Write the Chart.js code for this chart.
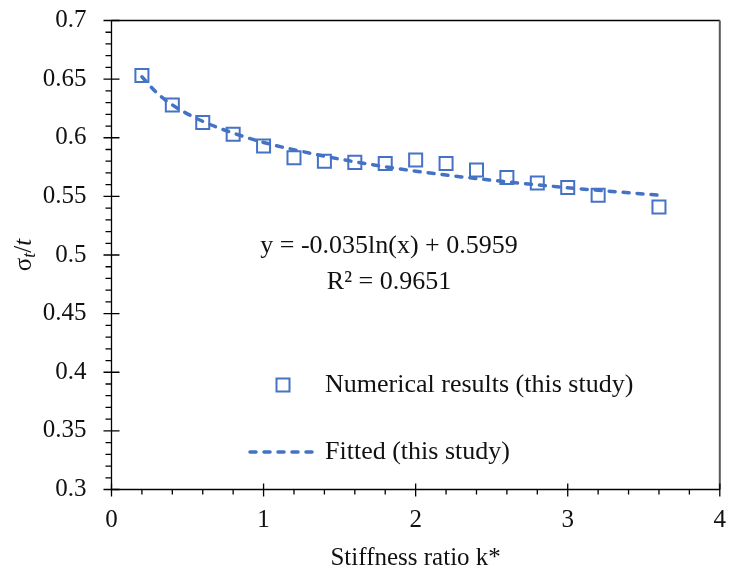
<!DOCTYPE html>
<html>
<head>
<meta charset="utf-8">
<script src="https://cdn.jsdelivr.net/npm/chart.js@4.4.1/dist/chart.umd.min.js"></script>
<style>
  html, body { margin: 0; padding: 0; background: #fff; }
  #wrap { width: 731px; height: 574px; }
</style>
</head>
<body>
<div id="wrap"><canvas id="chart"></canvas></div>
<script>
// numerical results (this study)
const kValues = [0.2, 0.4, 0.6, 0.8, 1.0, 1.2, 1.4, 1.6, 1.8, 2.0, 2.2, 2.4, 2.6, 2.8, 3.0, 3.2, 3.6];
const stressValues = [0.653, 0.628, 0.613, 0.603, 0.593, 0.583, 0.580, 0.579, 0.578, 0.581, 0.578, 0.5725, 0.566, 0.5615, 0.5575, 0.551, 0.541];

// fitted curve
const fitK = [0.2, 0.3, 0.4, 0.6, 0.8, 1.0, 1.3, 1.6, 2.0, 2.5, 3.0, 3.6];
const fitStress = [0.652, 0.638, 0.628, 0.614, 0.604, 0.596, 0.587, 0.5795, 0.5715, 0.5638, 0.5574, 0.551];

const xTicks = [0, 1, 2, 3, 4];
const yTicks = [0.3, 0.35, 0.4, 0.45, 0.5, 0.55, 0.6, 0.65, 0.7];

const equationText = 'y = -0.035ln(x) + 0.5959';
const r2Text = 'R² = 0.9651';
const legendPoints = 'Numerical results (this study)';
const legendFit = 'Fitted (this study)';
const xTitle = 'Stiffness ratio k*';

const blue = '#4472C4';
const serif = '"Liberation Serif", "Times New Roman", serif';

const toPoints = (xs, ys) => xs.map((x, i) => ({ x: x, y: ys[i] }));

// no extra room for overhanging tick labels, the layout padding does it
function noPad(scale) {
    scale.paddingLeft = 0;
    scale.paddingRight = 0;
    scale.paddingTop = 0;
    scale.paddingBottom = 0;
}

const decorPlugin = {
    id: 'decor',
    afterDraw(chart) {
        const ctx = chart.ctx;
        const area = chart.chartArea;
        const xs = chart.scales.x;
        const ys = chart.scales.y;
        ctx.save();

        // frame
        ctx.lineCap = 'butt';
        ctx.strokeStyle = '#000';
        ctx.lineWidth = 1.3;
        ctx.beginPath();
        ctx.moveTo(area.left, area.top);
        ctx.lineTo(area.right, area.top);
        ctx.moveTo(area.left, area.top);
        ctx.lineTo(area.left, area.bottom);
        ctx.lineTo(area.right, area.bottom);
        ctx.stroke();
        ctx.strokeStyle = '#595959';
        ctx.lineWidth = 2;
        ctx.beginPath();
        ctx.moveTo(area.right, area.top);
        ctx.lineTo(area.right, area.bottom);
        ctx.stroke();

        // tick marks
        ctx.strokeStyle = '#000';
        ctx.lineWidth = 1.3;
        ctx.beginPath();
        for (let i = 0; i <= 20; i++) {
            const px = xs.getPixelForValue(i * 0.2);
            const major = i % 5 === 0;
            ctx.moveTo(px, area.bottom - (major ? 6 : 0));
            ctx.lineTo(px, area.bottom + (major ? 7 : 5));
        }
        for (let i = 30; i <= 70; i++) {
            const py = ys.getPixelForValue(i / 100);
            const major = i % 5 === 0;
            ctx.moveTo(area.left + (major ? 8 : 0), py);
            ctx.lineTo(area.left - (major ? 8 : 6), py);
        }
        ctx.stroke();

        ctx.fillStyle = '#111';
        ctx.textBaseline = 'middle';

        // x axis title
        ctx.font = '25px ' + serif;
        ctx.textAlign = 'center';
        ctx.fillText(xTitle, (area.left + area.right) / 2, 558);

        // y axis title: sigma_t / t
        ctx.save();
        ctx.translate(24, (area.top + area.bottom) / 2);
        ctx.rotate(-Math.PI / 2);
        const big = '25px ' + serif;
        const small = 'italic 18px ' + serif;
        const bigIt = 'italic 25px ' + serif;
        ctx.font = big; const wS = ctx.measureText('σ').width; const wSl = ctx.measureText('/').width;
        ctx.font = small; const wt = ctx.measureText('t').width;
        ctx.font = bigIt; const wT = ctx.measureText('t').width;
        let cx = -(wS + wt + wSl + wT) / 2;
        ctx.textAlign = 'left';
        ctx.font = big; ctx.fillText('σ', cx, 0); cx += wS;
        ctx.font = small; ctx.fillText('t', cx, 6); cx += wt;
        ctx.font = big; ctx.fillText('/', cx, 0); cx += wSl;
        ctx.font = bigIt; ctx.fillText('t', cx, 0);
        ctx.restore();

        // trendline equation
        ctx.font = '26px ' + serif;
        ctx.textAlign = 'center';
        ctx.fillText(equationText, 389, 246);
        ctx.fillText(r2Text, 389, 282);

        // legend
        ctx.textAlign = 'left';
        ctx.fillText(legendPoints, 325, 385);
        ctx.fillText(legendFit, 325, 452);
        ctx.strokeStyle = blue;
        ctx.lineWidth = 2;
        ctx.strokeRect(283 - 6.5, 385 - 6.5, 13, 13);
        ctx.lineWidth = 3.5;
        ctx.lineCap = 'round';
        ctx.setLineDash([6, 8]);
        ctx.beginPath();
        ctx.moveTo(250, 452);
        ctx.lineTo(318, 452);
        ctx.stroke();

        ctx.restore();
    }
};

new Chart(document.getElementById('chart'), {
    type: 'scatter',
    data: {
        datasets: [
            {
                label: legendFit,
                data: toPoints(fitK, fitStress),
                showLine: true,
                borderColor: blue,
                borderWidth: 3.5,
                borderDash: [6, 8],
                borderCapStyle: 'round',
                cubicInterpolationMode: 'monotone',
                pointRadius: 0,
                fill: false,
                order: 2
            },
            {
                label: legendPoints,
                data: toPoints(kValues, stressValues),
                showLine: false,
                pointStyle: 'rect',
                pointRadius: 9.2,
                pointBorderWidth: 2,
                pointBorderColor: blue,
                pointBackgroundColor: 'rgba(0,0,0,0)',
                order: 1
            }
        ]
    },
    options: {
        responsive: true,
        maintainAspectRatio: false,
        animation: false,
        layout: { padding: { top: 20.5, right: 9.5, left: 0, bottom: 0 } },
        scales: {
            x: {
                type: 'linear',
                min: 0,
                max: 4,
                afterBuildTicks: scale => { scale.ticks = xTicks.map(v => ({ value: v })); },
                afterFit: scale => { scale.height = 84.5; noPad(scale); },
                grid: { display: false, drawTicks: false },
                border: { display: false },
                ticks: {
                    padding: 16,
                    color: '#111',
                    font: { family: serif, size: 25 }
                }
            },
            y: {
                type: 'linear',
                min: 0.3,
                max: 0.7,
                afterBuildTicks: scale => { scale.ticks = yTicks.map(v => ({ value: v })); },
                afterFit: scale => { scale.width = 111.5; noPad(scale); },
                grid: { display: false, drawTicks: false },
                border: { display: false },
                ticks: {
                    padding: 25,
                    color: '#111',
                    font: { family: serif, size: 25 },
                    callback: v => String(+v.toFixed(2))
                }
            }
        },
        plugins: {
            legend: { display: false },
            tooltip: { enabled: false }
        }
    },
    plugins: [decorPlugin]
});
</script>
</body>
</html>
